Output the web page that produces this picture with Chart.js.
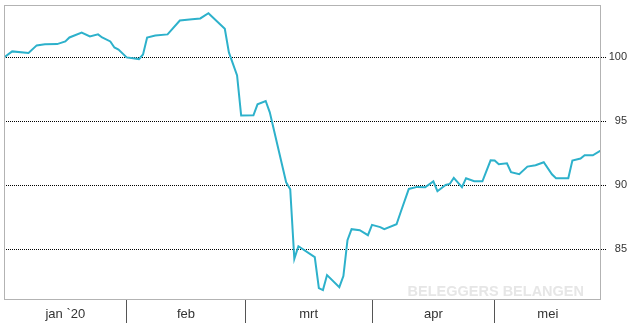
<!DOCTYPE html>
<html>
<head>
<meta charset="utf-8">
<script src="https://cdn.jsdelivr.net/npm/chart.js@4"></script>
<style>
  body { margin: 0; background: #fff; }
  canvas { display: block; }
</style>
</head>
<body>
<canvas id="koers" width="631" height="327"></canvas>
<script>
// day number in 2020 (1 = 2 jan) and index value
const days = [1, 3, 7, 9, 11, 14, 16, 17, 20, 22, 24, 25, 27, 28, 29, 31, 34, 35, 36, 38,
    41, 44, 47, 49, 51, 55, 56, 58, 59, 62, 63, 65, 66, 70, 71, 72, 73, 77, 78, 79,
    80, 83, 84, 85, 86, 88, 90, 91, 93, 94, 97, 98, 100, 102, 104, 106, 107, 109, 110, 111,
    113, 114, 116, 118, 120, 121, 122, 124, 125, 127, 129, 131, 133, 135, 136, 139, 140, 142, 143, 145,
    147];
const values = [100.0, 100.47, 100.34, 100.94, 101.02, 101.04, 101.25, 101.56, 101.95, 101.64,
    101.8, 101.56, 101.25, 100.78, 100.62, 100.0, 99.87, 100.23, 101.56, 101.72,
    101.8, 102.89, 102.99, 103.05, 103.46, 102.24, 100.39, 98.59, 95.45, 95.47,
    96.33, 96.59, 95.7, 90.23, 89.69, 84.24, 85.23, 84.38, 81.95, 81.8,
    82.97, 82.03, 82.89, 85.7, 86.56, 86.48, 86.09, 86.9, 86.72, 86.56,
    86.95, 87.89, 89.71, 89.87, 89.84, 90.3, 89.53, 90.02, 90.1, 90.57,
    89.84, 90.55, 90.31, 90.31, 91.95, 91.93, 91.64, 91.72, 91.02, 90.86,
    91.46, 91.56, 91.8, 90.86, 90.55, 90.55, 91.93, 92.09, 92.34, 92.34,
    92.73];

const monthStarts = [31, 60, 91, 121];
const monthMids = [16, 45.5, 75.5, 106, 134];
const monthLabels = ['jan `20', 'feb', 'mrt', 'apr', 'mei'];
const yTicks = [85, 90, 95, 100];

const frame = {
    id: 'frame',
    beforeDatasetsDraw(chart) {
        const { ctx, chartArea: a } = chart;
        ctx.save();
        ctx.font = 'bold 14.5px Arial';
        ctx.fillStyle = '#e6e6e6';
        ctx.textAlign = 'right';
        ctx.textBaseline = 'alphabetic';
        ctx.fillText('BELEGGERS BELANGEN', a.right - 17, a.bottom - 3);
        ctx.restore();
    },
    afterDraw(chart) {
        const { ctx, chartArea: a } = chart;
        ctx.save();
        ctx.strokeStyle = '#b3b3b3';
        ctx.lineWidth = 1;
        ctx.strokeRect(a.left + 0.5, a.top + 0.5, a.right - a.left - 1, a.bottom - a.top);
        ctx.restore();
    }
};

new Chart(
    document.getElementById('koers'),
    {
        type: 'line',
        data: {
            datasets: [
                {
                    label: 'Index',
                    data: days.map((d, i) => ({ x: d, y: values[i] })),
                    borderColor: '#2db1cb',
                    borderWidth: 2,
                    pointRadius: 0,
                    tension: 0,
                    fill: false
                }
            ]
        },
        plugins: [frame],
        options: {
            responsive: false,
            animation: false,
            layout: { padding: { left: 4, top: 5, right: 4, bottom: 0 } },
            plugins: {
                legend: { display: false },
                tooltip: { enabled: false }
            },
            scales: {
                x: {
                    type: 'linear',
                    position: 'bottom',
                    min: 1,
                    max: 147,
                    afterBuildTicks: scale => {
                        scale.ticks = monthStarts.concat(monthMids)
                            .sort((a, b) => a - b)
                            .map(v => ({ value: v }));
                    },
                    afterFit: scale => {
                        scale.height = 28;
                        scale.paddingLeft = 0;
                        scale.paddingRight = 0;
                    },
                    border: { display: false },
                    grid: {
                        drawOnChartArea: false,
                        drawTicks: true,
                        tickLength: 24,
                        color: ctx => (ctx.tick && monthStarts.includes(ctx.tick.value)) ? '#555' : 'rgba(0,0,0,0)'
                    },
                    ticks: {
                        autoSkip: false,
                        maxRotation: 0,
                        padding: -16,
                        color: '#333',
                        font: { family: 'Arial', size: 13 },
                        callback: value => {
                            const i = monthMids.indexOf(value);
                            return i >= 0 ? monthLabels[i] : '';
                        }
                    }
                },
                y: {
                    position: 'right',
                    min: 81.1,
                    max: 104.1,
                    afterBuildTicks: scale => {
                        scale.ticks = yTicks.map(v => ({ value: v }));
                    },
                    afterFit: scale => {
                        scale.width = 26;
                        scale.paddingTop = 0;
                        scale.paddingBottom = 0;
                    },
                    border: { display: false, dash: [1, 1] },
                    grid: {
                        color: '#000',
                        lineWidth: 1,
                        tickLength: 6,
                        tickBorderDash: [1, 1]
                    },
                    ticks: {
                        padding: 3,
                        crossAlign: 'far',
                        color: '#333',
                        font: { family: 'Arial', size: 11 }
                    }
                }
            }
        }
    }
);
</script>
</body>
</html>
